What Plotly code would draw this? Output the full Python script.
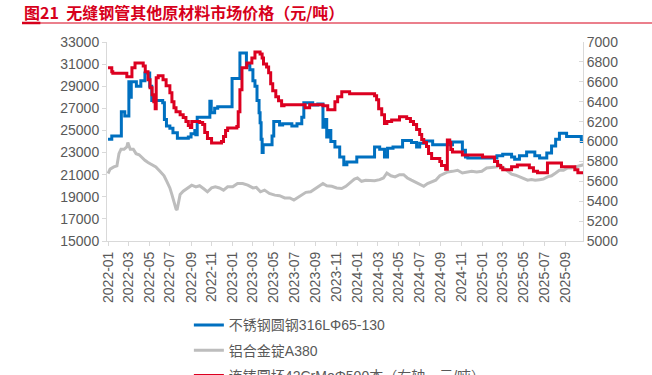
import plotly.graph_objects as go

# ---------------- data ----------------
ss_dates = ["2022-01-01","2022-01-12","2022-02-09","2022-02-19","2022-03-03","2022-03-07","2022-03-10","2022-03-25",
            "2022-04-07","2022-04-19","2022-05-03","2022-05-09","2022-06-10","2022-06-15","2022-06-21","2022-07-01",
            "2022-07-10","2022-07-23","2022-08-24","2022-09-01","2022-09-12","2022-09-15","2022-09-19","2022-10-26",
            "2022-10-30","2022-11-09","2022-11-18","2022-12-30","2023-01-22","2023-02-10","2023-02-20","2023-03-01",
            "2023-03-07","2023-03-13","2023-03-19","2023-03-22","2023-03-25","2023-03-28","2023-03-31","2023-04-26",
            "2023-05-01","2023-05-18","2023-05-27","2023-06-23","2023-07-08","2023-07-22","2023-07-28","2023-08-23",
            "2023-09-07","2023-09-22","2023-09-28","2023-10-03","2023-10-09","2023-10-15","2023-10-27","2023-11-10",
            "2023-11-22","2023-12-01","2023-12-30","2024-02-20","2024-03-06","2024-03-20","2024-03-29","2024-04-14",
            "2024-05-12","2024-06-07","2024-06-22","2024-07-01","2024-07-21","2024-08-08","2024-10-05","2024-11-03",
            "2024-11-12","2024-11-19","2025-02-12","2025-03-01","2025-03-27","2025-04-05","2025-04-19","2025-05-10",
            "2025-06-03","2025-06-17","2025-07-08","2025-07-22","2025-08-03","2025-08-14","2025-09-04","2025-10-17",
            "2025-10-23"]
ss_values = [24200,24500,26700,26300,29400,28000,29400,29000,
             29500,30200,29000,27700,27500,26000,25400,25200,
             24800,24300,24400,24700,25000,24600,26200,27650,
             26600,27000,27150,29700,32000,30900,30500,29500,
             29000,27700,26600,25700,24200,23000,23700,24500,
             25800,25500,25600,25400,25600,26200,27500,27300,
             27400,25300,26000,24400,25000,24000,23500,22600,
             21900,22150,22600,23500,23300,22600,23400,23500,
             24100,23900,23500,23850,24050,23700,23950,23200,
             22600,22500,22700,22850,22600,22400,22700,23050,
             22700,22500,22950,23600,24200,24750,24450,24000,
             23900]

al_dates = ["2022-01-01","2022-01-07","2022-01-18","2022-01-27","2022-02-02","2022-02-08","2022-02-17","2022-02-25",
            "2022-02-28","2022-03-07","2022-03-16","2022-03-24","2022-04-02","2022-04-11","2022-04-19","2022-04-28",
            "2022-05-10","2022-05-21","2022-06-02","2022-06-14","2022-06-22","2022-07-01","2022-07-07","2022-07-13",
            "2022-07-19","2022-07-22","2022-07-25","2022-07-31","2022-08-09","2022-08-17","2022-08-26","2022-09-03",
            "2022-09-15","2022-09-26","2022-10-09","2022-10-19","2022-10-31","2022-11-11","2022-11-23","2022-12-05",
            "2022-12-17","2023-01-01","2023-01-15","2023-01-30","2023-02-14","2023-03-01","2023-03-11","2023-03-23",
            "2023-04-04","2023-04-18","2023-05-04","2023-05-18","2023-06-02","2023-06-17","2023-06-29","2023-07-11",
            "2023-07-22","2023-08-03","2023-08-17","2023-08-29","2023-09-10","2023-09-22","2023-10-03","2023-10-18",
            "2023-11-01","2023-11-16","2023-11-28","2023-12-09","2023-12-23","2024-01-01","2024-01-13","2024-01-25",
            "2024-02-05","2024-02-20","2024-03-06","2024-03-17","2024-03-27","2024-04-08","2024-04-20","2024-05-03",
            "2024-05-15","2024-05-26","2024-06-07","2024-06-19","2024-07-01","2024-07-13","2024-07-24","2024-08-05",
            "2024-08-17","2024-08-29","2024-09-09","2024-09-21","2024-10-05","2024-10-20","2024-11-03","2024-11-15",
            "2024-11-30","2024-12-15","2024-12-30","2025-01-13","2025-01-28","2025-02-12","2025-02-20","2025-03-04",
            "2025-03-16","2025-03-27","2025-04-08","2025-04-19","2025-05-01","2025-05-13","2025-05-24","2025-06-04",
            "2025-06-17","2025-06-28","2025-07-10","2025-07-22","2025-08-03","2025-08-14","2025-08-26","2025-09-07",
            "2025-09-19","2025-10-01","2025-10-12","2025-10-23"]
al_values = [21100,21500,21700,21800,22900,23300,23300,23500,
             23900,23300,23300,22900,22800,22500,22300,22100,
             21900,21700,21300,20900,20400,19800,19200,18500,
             17900,17800,18400,19200,19500,19700,19900,20050,
             19900,20000,19700,19450,19800,19900,19800,19600,
             19900,19900,20200,20200,20050,19800,19850,19450,
             19600,19300,19150,19100,18900,18900,18700,18950,
             19100,19400,19450,19700,19950,20200,20000,19950,
             19800,19750,19950,20200,20600,20700,20400,20500,
             20500,20450,20550,20700,21150,20900,20800,21000,
             21000,20700,20500,20300,20100,19950,20200,20350,
             20500,20900,21050,21250,21300,21400,21150,21200,
             21300,21250,21300,21600,21650,21700,21900,21600,
             21350,21050,20950,20800,20700,20500,20550,20500,
             20550,20600,20800,20900,21150,21400,21400,21600,
             21600,21700,21800,21900]

cb_dates = ["2022-01-01","2022-01-12","2022-01-15","2022-02-25","2022-03-12","2022-03-21","2022-04-14","2022-04-20",
            "2022-04-28","2022-05-04","2022-05-10","2022-05-15","2022-05-19","2022-05-22","2022-05-28","2022-06-11",
            "2022-06-20","2022-07-01","2022-07-07","2022-07-13","2022-07-19","2022-07-31","2022-08-09","2022-08-17",
            "2022-08-24","2022-08-30","2022-09-03","2022-09-26","2022-10-05","2022-10-11","2022-10-19","2022-10-31",
            "2022-11-29","2022-12-05","2022-12-11","2022-12-17","2023-01-13","2023-01-17","2023-01-22","2023-01-28",
            "2023-02-11","2023-02-26","2023-03-07","2023-03-22","2023-03-28","2023-04-01","2023-04-10","2023-04-16",
            "2023-04-22","2023-04-28","2023-05-07","2023-05-15","2023-05-24","2023-05-31","2023-08-01","2023-08-14",
            "2023-09-22","2023-10-06","2023-10-27","2023-11-04","2023-11-16","2023-12-09","2024-02-20","2024-02-26",
            "2024-03-03","2024-03-12","2024-03-20","2024-03-27","2024-04-10","2024-05-03","2024-05-24","2024-06-04",
            "2024-06-13","2024-06-22","2024-07-01","2024-07-07","2024-07-13","2024-07-21","2024-07-27","2024-08-05",
            "2024-08-29","2024-09-03","2024-09-15","2024-09-20","2024-09-27","2024-09-30","2024-10-05","2024-11-03",
            "2025-01-01","2025-02-05","2025-02-14","2025-02-23","2025-03-01","2025-03-27","2025-04-13","2025-05-18",
            "2025-05-30","2025-06-11","2025-07-10","2025-08-20","2025-09-28","2025-10-07","2025-10-23"]
cb_values = [6740,6700,6685,6650,6740,6790,6760,6700,
             6620,6540,6470,6400,6330,6640,6660,6620,
             6560,6490,6400,6340,6300,6270,6240,6200,
             6160,6140,6200,6190,6170,6090,6030,5985,
             6000,6050,6110,6135,6150,6300,6520,6740,
             6790,6840,6900,6880,6840,6780,6750,6690,
             6580,6510,6450,6410,6360,6370,6340,6370,
             6360,6320,6400,6450,6500,6480,6460,6420,
             6330,6270,6180,6200,6215,6250,6230,6200,
             6170,6120,6070,6020,5990,5950,5880,5830,
             5800,5760,5720,6015,5990,5920,5895,5865,
             5845,5800,5760,5735,5715,5745,5765,5735,
             5700,5685,5785,5745,5715,5685,5685]

names = ["不锈钢圆钢316LΦ65-130", "铝合金锭A380", "连铸圆坯42CrMoΦ500本（右轴，元/吨）"]
title_text = "图21&nbsp;&nbsp;无缝钢管其他原材料市场价格（元/吨）"

# ---------------- figure ----------------
BLUE = "#0070C0"
GRAY = "#BDBDBD"
RED = "#DC0020"
TXT = "#595959"
AX = "#D9D9D9"
FONT = "Liberation Sans, Noto Sans CJK SC, sans-serif"

fig = go.Figure()
fig.add_trace(go.Scatter(x=ss_dates, y=ss_values, name=names[0], mode="lines",
                         line=dict(color=BLUE, width=3, shape="hv"), legendgroup="a"))
fig.add_trace(go.Scatter(x=al_dates, y=al_values, name=names[1], mode="lines",
                         line=dict(color=GRAY, width=3), legendgroup="b"))
fig.add_trace(go.Scatter(x=cb_dates, y=cb_values, name=names[2], mode="lines", yaxis="y2",
                         line=dict(color=RED, width=3, shape="hv"), legendgroup="c"))

fig.update_layout(
    width=652, height=375,
    margin=dict(l=107, r=69, t=42, b=134, autoexpand=False),
    paper_bgcolor="white", plot_bgcolor="white",
    font=dict(family=FONT, size=14, color=TXT),
    showlegend=True,
    legend=dict(orientation="v", x=0.172, xanchor="left",
                yref="container", y=0.175, yanchor="top",
                font=dict(size=14, color=TXT), tracegroupgap=4, traceorder="grouped",
                itemwidth=30, bgcolor="rgba(0,0,0,0)"),
    xaxis=dict(type="date", range=["2021-12-29", "2025-10-22"], automargin=False,
               tick0="2022-01-01", dtick="M2", tickformat="%Y-%m", tickangle=-90,
               showgrid=False, showline=True, linecolor=AX, linewidth=1,
               ticks="outside", ticklen=4, tickcolor=AX, zeroline=False,
               tickfont=dict(size=14, color=TXT)),
    yaxis=dict(range=[15000, 33000], tick0=15000, dtick=2000, automargin=False,
               showgrid=False, showline=True,
               linecolor=AX, linewidth=1, ticks="outside", ticklen=4, tickcolor=AX,
               zeroline=False, tickformat="d", tickfont=dict(size=14, color=TXT)),
    yaxis2=dict(range=[5000, 7000], tick0=5000, dtick=200, overlaying="y", side="right",
                automargin=False,
                showgrid=False, showline=True, linecolor=AX, linewidth=1,
                ticks="inside", ticklen=4, tickcolor=AX, zeroline=False,
                tickformat="d", tickfont=dict(size=14, color=TXT)),
)

# title and red rule
fig.add_annotation(text="<b>" + title_text + "</b>", xref="paper", yref="paper",
                   x=-0.1786, y=1.151, xanchor="left", yanchor="middle", showarrow=False,
                   font=dict(size=16, color="#D7001B", family="Noto Sans CJK SC, Liberation Sans"))
fig.add_shape(type="line", xref="paper", yref="paper", x0=-0.1786, x1=1.145, y0=1.0955, y1=1.0955,
              line=dict(color="#D7001B", width=1.2))
fig.add_shape(type="line", xref="paper", yref="paper", x0=-0.1786, x1=-0.14, y0=1.0955, y1=1.0955,
              line=dict(color="#D7001B", width=2.5))

fig.write_html("out.html", config={"displayModeBar": False},
               post_script="document.body.style.margin='0';document.body.style.overflow='hidden';")
